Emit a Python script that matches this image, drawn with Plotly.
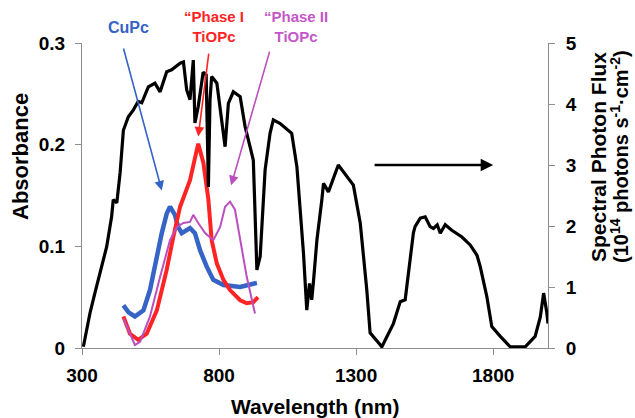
import plotly.graph_objects as go

# AM1.5 solar photon flux (10^14 photons s^-1 cm^-2), right axis
solar_nm = [305, 329, 347, 372, 390, 408, 414, 427, 439, 451, 469, 487, 505, 518,
            542, 566, 585, 609, 627, 658, 670, 682, 694, 706, 712, 724, 742, 753,
            761, 767, 773, 792, 804, 822, 834, 852, 877, 895, 913, 925, 938, 950,
            968, 986, 998, 1023, 1065, 1084, 1108, 1120, 1130, 1138, 1144, 1157,
            1175, 1181, 1199, 1235, 1290, 1315, 1339, 1351, 1394, 1436, 1461, 1479,
            1509, 1515, 1534, 1552, 1570, 1582, 1596, 1607, 1625, 1649, 1686, 1716,
            1741, 1753, 1777, 1795, 1826, 1862, 1917, 1953, 1972, 1984, 1996, 2000]
solar_flux = [0.02, 0.57, 0.90, 1.33, 1.66, 2.15, 2.43, 2.38, 2.87, 3.57, 3.79, 3.90, 4.04, 4.02,
              4.28, 4.34, 4.20, 4.53, 4.56, 4.67, 4.69, 4.23, 4.07, 4.72, 3.69, 3.96, 4.52, 4.48,
              2.64, 4.07, 4.45, 4.34, 3.96, 3.30, 4.01, 4.20, 4.12, 3.63, 3.30, 3.08, 1.28, 1.50,
              2.92, 3.52, 3.74, 3.68, 3.52, 2.97, 1.55, 0.62, 1.06, 0.79, 1.07, 1.77,
              2.43, 2.70, 2.56, 3.00, 2.67, 2.05, 0.95, 0.25, 0.02, 0.40, 0.76, 0.79,
              1.89, 1.99, 2.13, 2.15, 1.99, 1.96, 2.02, 1.88, 2.02, 1.93, 1.82, 1.69,
              1.52, 1.33, 0.84, 0.35, 0.19, 0.02, 0.02, 0.19, 0.51, 0.90, 0.57, 0.40]

# Absorbance spectra, left axis
cupc_nm = [451, 470, 493, 524, 548, 573, 591, 609, 621, 639, 651, 664, 682, 694,
           712, 731, 755, 779, 816, 877, 938]
cupc_abs = [0.042, 0.035, 0.031, 0.037, 0.057, 0.090, 0.113, 0.132, 0.139, 0.131, 0.119,
            0.113, 0.116, 0.118, 0.113, 0.096, 0.080, 0.067, 0.062, 0.060, 0.064]

tiopc1_nm = [451, 475, 505, 536, 573, 609, 633, 658, 694, 712, 724, 743, 761, 773,
             792, 816, 840, 877, 901, 925, 942]
tiopc1_abs = [0.031, 0.014, 0.008, 0.014, 0.037, 0.077, 0.109, 0.139, 0.165, 0.185, 0.201,
              0.182, 0.146, 0.106, 0.083, 0.067, 0.057, 0.047, 0.044, 0.045, 0.050]

tiopc2_nm = [451, 475, 493, 512, 548, 585, 621, 646, 670, 694, 706, 724, 749, 779,
             804, 822, 840, 858, 877, 901, 931]
tiopc2_abs = [0.029, 0.015, 0.003, 0.006, 0.031, 0.070, 0.106, 0.119, 0.123, 0.124, 0.131,
              0.123, 0.113, 0.106, 0.119, 0.139, 0.144, 0.136, 0.106, 0.070, 0.034]

x_ticks = [300, 800, 1300, 1800]
abs_ticks = [0, 0.1, 0.2, 0.3]
abs_tick_text = ["0", "0.1", "0.2", "0.3"]
flux_ticks = [0, 1, 2, 3, 4, 5]

BLUE = "#3563c6"
RED = "#ff2424"
MAGENTA = "#bb4fc0"
AXIS = "#8c8c8c"
FONT = "Liberation Sans, Arial, sans-serif"

fig = go.Figure()
fig.add_trace(go.Scatter(x=solar_nm, y=solar_flux, yaxis="y2", mode="lines",
                         line=dict(color="black", width=3.2)))
fig.add_trace(go.Scatter(x=cupc_nm, y=cupc_abs, mode="lines", line=dict(color=BLUE, width=4.5)))
fig.add_trace(go.Scatter(x=tiopc1_nm, y=tiopc1_abs, mode="lines", line=dict(color=RED, width=4)))
fig.add_trace(go.Scatter(x=tiopc2_nm, y=tiopc2_abs, mode="lines", line=dict(color=MAGENTA, width=2)))

tickfont = dict(family=FONT, size=19, color="black", weight="bold")

fig.update_layout(
    width=635, height=418,
    margin=dict(l=82, r=87, t=43, b=70),
    paper_bgcolor="white", plot_bgcolor="white",
    showlegend=False,
    xaxis=dict(range=[300, 2000], tickvals=x_ticks, ticks="outside", ticklen=6,
               tickcolor=AXIS, showline=True, linecolor=AXIS, showgrid=False,
               zeroline=False, tickfont=tickfont, ticklabelstandoff=4),
    yaxis=dict(range=[0, 0.3], tickvals=abs_ticks, ticktext=abs_tick_text,
               ticks="outside", ticklen=6, tickcolor=AXIS, showline=True,
               linecolor=AXIS, showgrid=False, zeroline=False, tickfont=tickfont,
               ticklabelstandoff=6),
    yaxis2=dict(range=[0, 5], tickvals=flux_ticks, overlaying="y", side="right",
                ticks="outside", ticklen=6, tickcolor=AXIS, showline=True,
                linecolor=AXIS, showgrid=False, zeroline=False, tickfont=tickfont,
                ticklabelstandoff=7),
)

title_font = dict(family=FONT, size=21, color="black", weight="bold")
label_font = dict(family=FONT, size=15, weight="bold")
title_y = (348 - 157) / 305

# axis titles
fig.add_annotation(text="Wavelength (nm)", xref="paper", yref="paper", x=(315 - 82) / 466,
                   y=(348 - 406) / 305, showarrow=False, font=title_font,
                   xanchor="center", yanchor="middle")
fig.add_annotation(text="Absorbance", xref="paper", yref="paper", x=(20 - 82) / 466, y=title_y,
                   showarrow=False, font=dict(title_font, size=22), textangle=-90,
                   xanchor="center", yanchor="middle")
fig.add_annotation(text="Spectral Photon Flux", xref="paper", yref="paper",
                   x=(598 - 82) / 466, y=title_y,
                   showarrow=False, font=title_font, textangle=-90,
                   xanchor="center", yanchor="middle")
fig.add_annotation(text="(10<sup>14</sup> photons s<sup>-1</sup>·cm<sup>-2</sup>)",
                   xref="paper", yref="paper", x=(619 - 82) / 466, y=title_y,
                   showarrow=False, font=dict(title_font, size=20), textangle=-90,
                   xanchor="center", yanchor="middle")

# series labels
fig.add_annotation(text="CuPc", xref="paper", yref="paper", x=(128 - 82) / 466, y=(348 - 28) / 305,
                   showarrow=False, font=dict(label_font, size=16, color=BLUE),
                   xanchor="center", yanchor="middle")
fig.add_annotation(text="“Phase I<br>TiOPc", xref="paper", yref="paper",
                   x=(214 - 82) / 466, y=(348 - 26) / 305,
                   showarrow=False, font=dict(label_font, color=RED),
                   xanchor="center", yanchor="middle")
fig.add_annotation(text="“Phase II<br>TiOPc", xref="paper", yref="paper",
                   x=(296 - 82) / 466, y=(348 - 26) / 305,
                   showarrow=False, font=dict(label_font, color="#c458c8"),
                   xanchor="center", yanchor="middle")

# pointer arrows (head -> x,y ; tail -> ax,ay)
fig.add_annotation(x=591, y=0.155, ax=450, ay=0.296, xref="x", yref="y", axref="x", ayref="y",
                   text="", showarrow=True, arrowhead=2, arrowsize=1.2, arrowwidth=1.6,
                   arrowcolor=BLUE)
fig.add_annotation(x=724, y=0.208, ax=763, ay=0.291, xref="x", yref="y", axref="x", ayref="y",
                   text="", showarrow=True, arrowhead=2, arrowsize=1.2, arrowwidth=1.6,
                   arrowcolor=RED)
fig.add_annotation(x=844, y=0.160, ax=986, ay=0.293, xref="x", yref="y", axref="x", ayref="y",
                   text="", showarrow=True, arrowhead=2, arrowsize=1.2, arrowwidth=1.6,
                   arrowcolor=MAGENTA)
fig.add_annotation(x=1800, y=3.0, ax=1362, ay=3.0, xref="x", yref="y2", axref="x", ayref="y2",
                   text="", showarrow=True, arrowhead=2, arrowsize=1, arrowwidth=2.5,
                   arrowcolor="black")

fig.write_html("out.html")
